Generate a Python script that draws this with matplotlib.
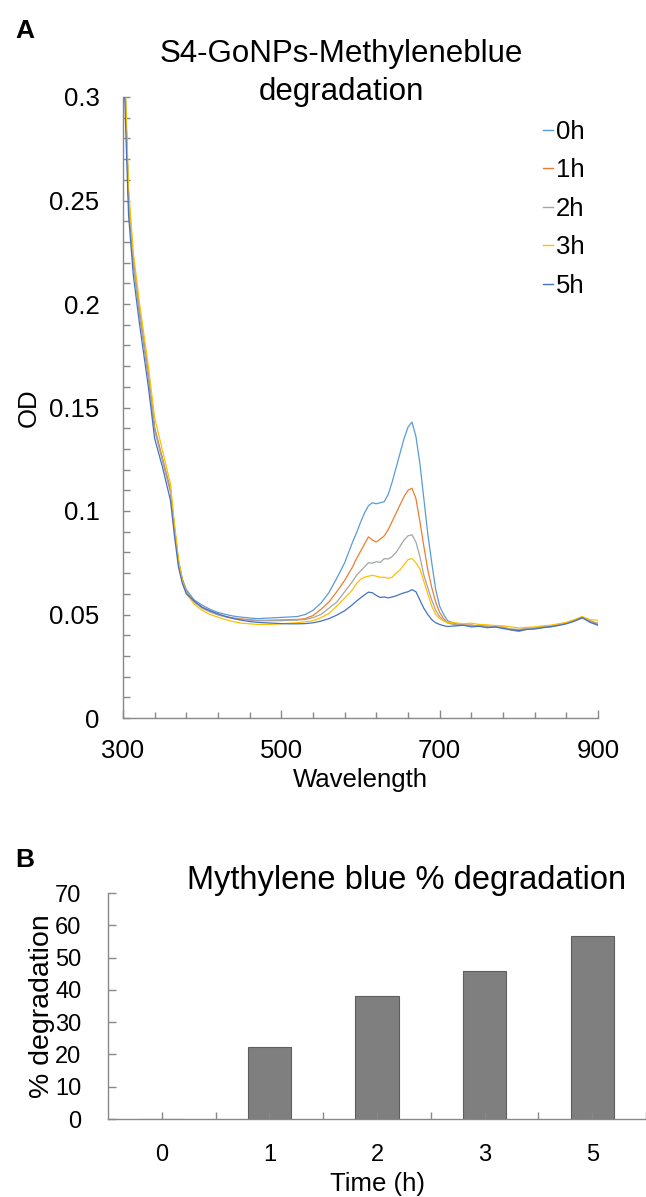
import matplotlib
matplotlib.use("Agg")
import matplotlib.pyplot as plt
from matplotlib.ticker import FixedLocator, FixedFormatter

plt.rcParams['font.family'] = ['Liberation Sans', 'DejaVu Sans']

# ---------------- data ----------------
wavelength = [300, 303, 307, 313, 321, 332,
              340, 350, 360, 365, 370, 375, 380, 390,
              400, 410, 420, 430, 440, 450, 460, 470, 480, 490,
              500, 510, 520, 530, 540, 550, 560, 570, 580, 590,
              595, 600, 605, 610, 615, 620, 625, 630, 635, 640, 645, 650,
              655, 660, 665, 670, 675, 680, 685, 690, 695, 700, 705, 710,
              720, 730, 740, 750, 760, 770, 780, 790, 800, 810,
              820, 830, 840, 850, 860, 870, 880, 890, 900]

od_0h = [0.340, 0.300, 0.252, 0.221, 0.196, 0.166,
         0.140, 0.125, 0.110, 0.092, 0.076, 0.067, 0.062, 0.057,
         0.0545, 0.0525, 0.0510, 0.0500, 0.0492, 0.0487, 0.0483, 0.0480, 0.0482, 0.0484,
         0.0486, 0.0488, 0.0490, 0.0500, 0.0520, 0.0555, 0.0605, 0.0675, 0.0750, 0.0850,
         0.0895, 0.0945, 0.0990, 0.1025, 0.1040, 0.1035, 0.1040, 0.1045, 0.1080, 0.1140, 0.1210, 0.1280,
         0.1350, 0.1405, 0.1430, 0.1360, 0.1230, 0.1060, 0.0890, 0.0750, 0.0620, 0.0540, 0.0500, 0.0470,
         0.0455, 0.0450, 0.0445, 0.0448, 0.0440, 0.0443, 0.0435, 0.0428, 0.0425, 0.0430,
         0.0432, 0.0438, 0.0440, 0.0448, 0.0458, 0.0470, 0.0488, 0.0465, 0.0450]

od_1h = [0.340, 0.300, 0.252, 0.221, 0.196, 0.166,
         0.140, 0.125, 0.110, 0.092, 0.076, 0.067, 0.061, 0.056,
         0.0535, 0.0515, 0.0500, 0.0490, 0.0483, 0.0478, 0.0475, 0.0472, 0.0472, 0.0473,
         0.0474, 0.0475, 0.0476, 0.0480, 0.0495, 0.0525, 0.0560, 0.0610, 0.0665, 0.0730,
         0.0770, 0.0805, 0.0840, 0.0875, 0.0860, 0.0850, 0.0865, 0.0880, 0.0910, 0.0950, 0.0990, 0.1030,
         0.1070, 0.1100, 0.1110, 0.1060, 0.0950, 0.0830, 0.0715, 0.0630, 0.0560, 0.0510, 0.0480, 0.0460,
         0.0450, 0.0447, 0.0450, 0.0442, 0.0445, 0.0438, 0.0440, 0.0425, 0.0418, 0.0428,
         0.0435, 0.0440, 0.0445, 0.0452, 0.0460, 0.0472, 0.0485, 0.0470, 0.0452]

od_2h = [0.340, 0.300, 0.251, 0.220, 0.195, 0.165,
         0.139, 0.124, 0.109, 0.091, 0.075, 0.066, 0.061, 0.056,
         0.0530, 0.0512, 0.0498, 0.0488, 0.0480, 0.0476, 0.0473, 0.0470, 0.0470, 0.0470,
         0.0470, 0.0472, 0.0473, 0.0476, 0.0485, 0.0500, 0.0530, 0.0560, 0.0610, 0.0660,
         0.0690, 0.0710, 0.0730, 0.0750, 0.0748, 0.0755, 0.0752, 0.0770, 0.0768, 0.0780, 0.0800, 0.0830,
         0.0860, 0.0880, 0.0885, 0.0850, 0.0780, 0.0690, 0.0630, 0.0570, 0.0520, 0.0490, 0.0470, 0.0460,
         0.0452, 0.0450, 0.0446, 0.0445, 0.0441, 0.0440, 0.0437, 0.0430, 0.0428, 0.0432,
         0.0436, 0.0441, 0.0443, 0.0450, 0.0457, 0.0468, 0.0482, 0.0468, 0.0458]

od_3h = [0.345, 0.305, 0.256, 0.225, 0.200, 0.170,
         0.145, 0.129, 0.113, 0.094, 0.077, 0.066, 0.060, 0.055,
         0.0520, 0.0500, 0.0487, 0.0475, 0.0465, 0.0458, 0.0455, 0.0452, 0.0452, 0.0453,
         0.0455, 0.0458, 0.0460, 0.0465, 0.0470, 0.0485, 0.0505, 0.0540, 0.0580, 0.0620,
         0.0650, 0.0670, 0.0680, 0.0685, 0.0690, 0.0685, 0.0680, 0.0680, 0.0675, 0.0680, 0.0700, 0.0715,
         0.0740, 0.0765, 0.0770, 0.0750, 0.0720, 0.0660, 0.0600, 0.0540, 0.0500, 0.0480, 0.0470, 0.0460,
         0.0460, 0.0455, 0.0458, 0.0452, 0.0450, 0.0447, 0.0445, 0.0440, 0.0435, 0.0438,
         0.0440, 0.0445, 0.0448, 0.0455, 0.0462, 0.0475, 0.0490, 0.0475, 0.0472]

od_5h = [0.330, 0.290, 0.243, 0.214, 0.190, 0.160,
         0.135, 0.121, 0.105, 0.088, 0.073, 0.065, 0.060, 0.0565,
         0.0535, 0.0518, 0.0503, 0.0490, 0.0480, 0.0472, 0.0466, 0.0462, 0.0460, 0.0458,
         0.0456, 0.0455, 0.0455, 0.0456, 0.0460, 0.0468, 0.0480, 0.0497, 0.0518, 0.0548,
         0.0565, 0.0580, 0.0595, 0.0608, 0.0605, 0.0592, 0.0582, 0.0585, 0.0580, 0.0585, 0.0590, 0.0598,
         0.0605, 0.0610, 0.0620, 0.0610, 0.0570, 0.0530, 0.0500, 0.0475, 0.0460, 0.0452, 0.0446, 0.0442,
         0.0445, 0.0448, 0.0440, 0.0443, 0.0436, 0.0440, 0.0432, 0.0426, 0.0422, 0.0428,
         0.0430, 0.0436, 0.0441, 0.0447, 0.0455, 0.0468, 0.0485, 0.0462, 0.0448]

series_labels = ['0h', '1h', '2h', '3h', '5h']
series_colors = ['#5B9BD5', '#ED7D31', '#A5A5A5', '#FFC000', '#4472C4']

time_labels = ['0', '1', '2', '3', '5']
degradation = [0, 22.3, 38.1, 45.8, 56.6]

spectra = [od_0h, od_1h, od_2h, od_3h, od_5h]
for s in spectra:
    assert len(s) == len(wavelength)

# ---------------- figure ----------------
W, H = 646, 1197
fig = plt.figure(figsize=(W / 100, H / 100), dpi=100)
fig.patch.set_facecolor('white')

def fx(px):
    return px / W

def fy(py):
    return 1 - py / H

spine_c = '#898989'

# ---- panel A ----
axA = fig.add_axes([fx(123), fy(718), fx(598) - fx(123), fy(97) - fy(718)])
for s, lab, c in zip(spectra, series_labels, series_colors):
    axA.plot(wavelength, s, color=c, lw=0.9, label=lab)
axA.set_xlim(300, 900)
axA.set_ylim(0, 0.3)
for sp in ['top', 'right']:
    axA.spines[sp].set_visible(False)
for sp in ['left', 'bottom']:
    axA.spines[sp].set_color(spine_c)
    axA.spines[sp].set_linewidth(1.0)

axA.xaxis.set_major_locator(FixedLocator([300, 500, 700, 900]))
axA.xaxis.set_major_formatter(FixedFormatter(['300', '500', '700', '900']))
axA.xaxis.set_minor_locator(FixedLocator(list(range(300, 901, 40))))
yt = [0, 0.05, 0.1, 0.15, 0.2, 0.25, 0.3]
axA.yaxis.set_major_locator(FixedLocator(yt))
axA.yaxis.set_major_formatter(FixedFormatter(['0', '0.05', '0.1', '0.15', '0.2', '0.25', '0.3']))
axA.yaxis.set_minor_locator(FixedLocator([i / 100 for i in range(0, 31)]))
axA.tick_params(axis='x', which='major', direction='in', length=6, width=1, color=spine_c,
                labelsize=18.5, pad=15)
axA.tick_params(axis='x', which='minor', direction='in', length=4.5, width=1, color=spine_c)
axA.tick_params(axis='y', which='major', direction='in', length=5, width=1, color=spine_c,
                labelsize=18.5, pad=17)
axA.tick_params(axis='y', which='minor', direction='in', length=5, width=1, color=spine_c)
axA.set_xlabel('Wavelength', fontsize=18.5, labelpad=4)
axA.set_ylabel('OD', fontsize=18.5, labelpad=6)

leg = axA.legend(loc='upper left', bbox_to_anchor=(fx(543), fy(120)),
                 bbox_transform=fig.transFigure, frameon=False, fontsize=18.5,
                 handlelength=0.4, handletextpad=0.1, labelspacing=0.56,
                 borderpad=0, borderaxespad=0)
for ln in leg.get_lines():
    ln.set_linewidth(1.0)

fig.text(fx(15), fy(38), 'A', fontsize=19, fontweight='bold', ha='left', va='baseline')
fig.text(fx(341), fy(62), 'S4-GoNPs-Methyleneblue', fontsize=22.5, ha='center', va='baseline')
fig.text(fx(341), fy(100), 'degradation', fontsize=22.5, ha='center', va='baseline')

# ---- panel B ----
axB = fig.add_axes([fx(108), fy(1119), 1.0 - fx(108), fy(893) - fy(1119)])
xpos = list(range(len(time_labels)))
axB.bar(xpos, degradation, width=0.4, color='#7F7F7F', edgecolor='#5E5E5E', linewidth=0.8)
axB.set_xlim(-0.5, len(time_labels) - 0.5)
axB.set_ylim(0, 70)
for sp in ['top', 'right']:
    axB.spines[sp].set_visible(False)
for sp in ['left', 'bottom']:
    axB.spines[sp].set_color(spine_c)
    axB.spines[sp].set_linewidth(1.0)
axB.set_xticks(xpos)
axB.set_xticklabels(time_labels)
axB.xaxis.set_minor_locator(FixedLocator([i + 0.5 for i in xpos]))
axB.set_yticks(list(range(0, 71, 10)))
axB.tick_params(axis='x', which='both', direction='in', length=5, width=1, color=spine_c,
                labelsize=17, pad=18)
axB.tick_params(axis='y', which='major', direction='in', length=6, width=1, color=spine_c,
                labelsize=17, pad=19)
axB.set_xlabel('Time (h)', fontsize=18.5, labelpad=4)
axB.set_ylabel('% degradation', fontsize=20.5, labelpad=0)

fig.text(fx(15), fy(867), 'B', fontsize=19, fontweight='bold', ha='left', va='baseline')
fig.text(fx(407), fy(889), 'Mythylene blue % degradation', fontsize=23.5, ha='center', va='baseline')

fig.savefig('out.png', dpi=100, facecolor='white')
